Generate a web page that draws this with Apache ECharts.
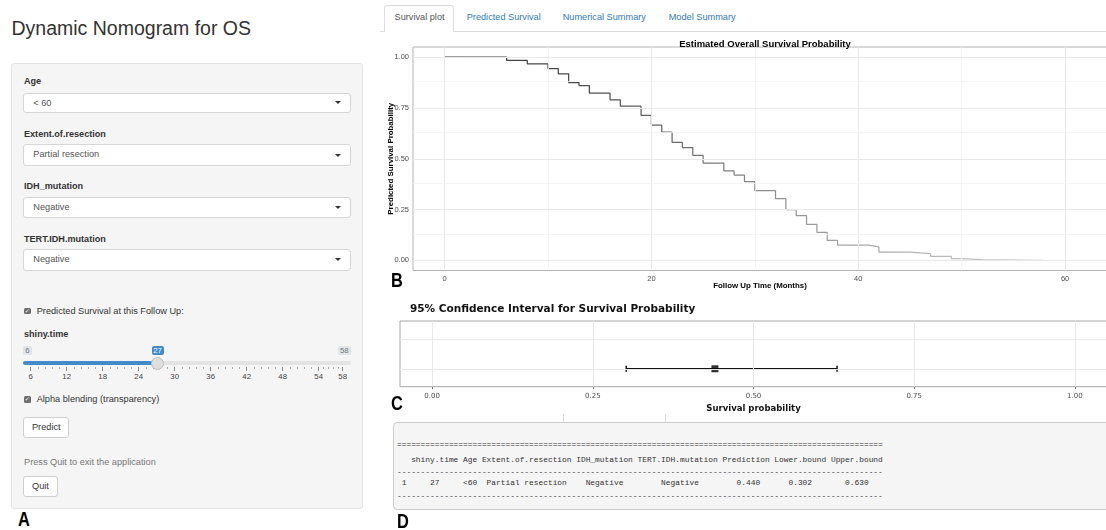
<!DOCTYPE html>
<html>
<head>
<meta charset="utf-8">
<script src="https://cdn.jsdelivr.net/npm/echarts@6/dist/echarts.min.js"></script>
<style>
html, body { margin: 0; padding: 0; width: 1106px; height: 530px; overflow: hidden; background: #fff; }
body { position: relative; font-family: "Liberation Sans", Arial, sans-serif; color: #333; }
.a { position: absolute; white-space: nowrap; }
.well { position: absolute; left: 10.7px; top: 62.7px; width: 352.6px; height: 446.6px; background: #f5f5f5; border: 1px solid #e3e3e3; border-radius: 3px; box-sizing: border-box; }
.lbl { position: absolute; left: 24px; font-size: 9.1px; line-height: 12px; font-weight: bold; color: #333; }
.sel { position: absolute; left: 23.3px; width: 327.4px; background: #fff; border: 1px solid #d6d6d6; border-radius: 3px; box-sizing: border-box; font-size: 9.2px; color: #555; padding-left: 9px; }
.caret { position: absolute; right: 9px; top: 50%; margin-top: -1.5px; width: 0; height: 0; border-left: 3px solid transparent; border-right: 3px solid transparent; border-top: 3.5px solid #333; }
.chk { position: absolute; left: 24px; width: 6.7px; height: 6.7px; background: #6e6e6e; border-radius: 1.5px; color: #fff; font-size: 6px; line-height: 6.7px; text-align: center; font-family: "DejaVu Sans", sans-serif; }
.txt { position: absolute; font-size: 9.2px; line-height: 12px; color: #333; }
.btn { position: absolute; left: 23.3px; background: #fff; border: 1px solid #cfcfcf; border-radius: 3px; box-sizing: border-box; font-size: 9.2px; color: #333; text-align: center; }
.sbox { position: absolute; top: 345.5px; height: 9px; line-height: 9px; font-size: 7.8px; text-align: center; border-radius: 2px; }
.tick { position: absolute; width: 0.8px; background: #888; }
.glab { position: absolute; font-size: 7.8px; line-height: 9px; color: #444; transform: translateX(-50%); top: 372px; }
.tab { position: absolute; top: 11px; font-size: 9.2px; line-height: 12px; color: #337ab7; }
.big { position: absolute; font-size: 20px; line-height: 20px; font-weight: bold; color: #000; transform: scaleX(0.82); transform-origin: left top; }
.mono { position: absolute; left: 397px; font-family: "Liberation Mono", monospace; font-size: 7.875px; line-height: 10px; color: #333; white-space: pre; }
</style>
</head>
<body>
<!-- left: input panel -->
<div class="a" style="left:11.5px;top:18px;font-size:19.5px;line-height:20px;color:#333">Dynamic Nomogram for OS</div>
<div class="well"></div>

<div class="lbl" style="top:75px">Age</div>
<div class="sel" style="top:92.7px;height:20.6px;line-height:18.6px">&lt; 60<i class="caret"></i></div>
<div class="lbl" style="top:128px">Extent.of.resection</div>
<div class="sel" style="top:144.3px;height:21.7px;line-height:19.7px">Partial resection<i class="caret"></i></div>
<div class="lbl" style="top:180px">IDH_mutation</div>
<div class="sel" style="top:196.7px;height:21.6px;line-height:19.6px">Negative<i class="caret"></i></div>
<div class="lbl" style="top:232.7px">TERT.IDH.mutation</div>
<div class="sel" style="top:249.3px;height:21.4px;line-height:19.4px">Negative<i class="caret"></i></div>

<div class="chk" style="top:307.7px">&#10003;</div>
<div class="txt" style="left:36.7px;top:305px">Predicted Survival at this Follow Up:</div>
<div class="lbl" style="top:328px">shiny.time</div>

<div class="sbox" style="left:23px;width:8.7px;background:#e1e4e9;color:#777">6</div>
<div class="sbox" style="left:151.5px;width:12px;background:#428bca;color:#fff">27</div>
<div class="sbox" style="left:338px;width:12.7px;background:#e1e4e9;color:#777">58</div>
<div class="a" style="left:23.3px;top:360.7px;width:327.4px;height:4.6px;background:#e4e4e4;border-radius:3px"></div>
<div class="a" style="left:23.3px;top:360.7px;width:134px;height:4.6px;background:#428bca;border-radius:3px 0 0 3px"></div>
<div id="sliderGrid"></div>
<div class="a" style="left:150.8px;top:356.5px;width:13px;height:13px;border-radius:50%;background:#dedede;border:1px solid #bdbdbd;box-sizing:border-box"></div>

<div class="chk" style="top:396px">&#10003;</div>
<div class="txt" style="left:36.7px;top:393.3px">Alpha blending (transparency)</div>
<div class="btn" style="top:416.7px;width:46px;height:21.6px;line-height:19.6px">Predict</div>
<div class="txt" style="left:24px;top:455.7px;color:#777">Press Quit to exit the application</div>
<div class="btn" style="top:475.7px;width:34.4px;height:21px;line-height:19px">Quit</div>
<div class="big" style="left:18px;top:509px">A</div>

<!-- right: tabs -->
<div class="a" style="left:380px;top:31px;width:726px;height:1px;background:#ddd"></div>
<div class="a" style="left:384px;top:5px;width:70px;height:27px;background:#fff;border:1px solid #ddd;border-bottom:none;border-radius:3px 3px 0 0;box-sizing:border-box"></div>
<div class="tab" style="left:394.5px;color:#555">Survival plot</div>
<div class="tab" style="left:466.7px">Predicted Survival</div>
<div class="tab" style="left:562.7px">Numerical Summary</div>
<div class="tab" style="left:668.7px">Model Summary</div>

<div id="surv" class="a" style="left:380px;top:33px;width:726px;height:262px"></div>
<div class="big" style="left:391px;top:269.5px">B</div>

<div id="ci" class="a" style="left:380px;top:290px;width:726px;height:130px"></div>
<div class="big" style="left:391px;top:393px">C</div>

<!-- numerical summary box -->
<div class="a" style="left:563px;top:414px;width:1px;height:9px;background:#ddd"></div>
<div class="a" style="left:665px;top:414px;width:1px;height:9px;background:#ddd"></div>
<div class="a" style="left:393.3px;top:422px;width:730px;height:87.5px;background:#f5f5f5;border:1px solid #cccccc;border-radius:4px;box-sizing:border-box"></div>
<div id="tbl"></div>
<div class="big" style="left:396.5px;top:510.5px">D</div>

<script>
// Kaplan-Meier style predicted survival (months, probability)
var timeMonths = [0, 6, 8, 10, 11, 12, 13, 14, 16, 17, 19, 20, 21, 22, 23, 24, 25, 27, 28, 29, 30, 32, 33, 34, 35, 36, 37, 38, 41, 42, 45, 47, 49, 50, 52, 58];
var survProb = [1.000, 0.984, 0.967, 0.944, 0.918, 0.875, 0.860, 0.823, 0.790, 0.759, 0.713, 0.665, 0.631, 0.580, 0.555, 0.517, 0.479, 0.440, 0.420, 0.387, 0.343, 0.304, 0.249, 0.220, 0.177, 0.138, 0.098, 0.075, 0.066, 0.041, 0.033, 0.020, 0.008, 0.003, 0.000, 0.000];
var survXTicks = [0, 20, 40, 60];
var survXMinor = [10, 30, 50];
var survYTicks = [0, 0.25, 0.5, 0.75, 1];
var survYMinor = [0.125, 0.375, 0.625, 0.875];

// 95% CI at the chosen follow up
var ciEstimate = [0.440];
var ciLower = [0.302];
var ciUpper = [0.630];
var ciXTicks = [0, 0.25, 0.5, 0.75, 1];
var ciYTicks = [1, 2];

// slider + table
var sliderTicks = [6, 12, 18, 24, 30, 36, 42, 48, 54, 58];
var tableColumns = ['shiny.time', 'Age', 'Extent.of.resection', 'IDH_mutation', 'TERT.IDH.mutation', 'Prediction', 'Lower.bound', 'Upper.bound'];
var tableRow = ['27', '<60', 'Partial resection', 'Negative', 'Negative', '0.440', '0.302', '0.630'];

var axisFont = '"Liberation Sans", Arial, sans-serif';
var ciFont = '"DejaVu Sans", Verdana, sans-serif';

function gridLine(axis, v, major) {
  var item = { lineStyle: { color: major ? '#e8e8e8' : '#f3f3f3', width: major ? 1 : 0.8, type: 'solid' } };
  item[axis] = v;
  return item;
}

var survGrid = [];
survXTicks.forEach(function (v) { survGrid.push(gridLine('xAxis', v, true)); });
survXMinor.forEach(function (v) { survGrid.push(gridLine('xAxis', v, false)); });
survYTicks.forEach(function (v) { survGrid.push(gridLine('yAxis', v, true)); });
survYMinor.forEach(function (v) { survGrid.push(gridLine('yAxis', v, false)); });

var survChart = echarts.init(document.getElementById('surv'));
survChart.setOption({
  animation: false,
  title: {
    text: 'Estimated Overall Survival Probability',
    left: 380, top: 1, textAlign: 'center',
    textStyle: { fontFamily: axisFont, fontWeight: 'bold', fontSize: 9.5, color: '#000' }
  },
  grid: {
    left: 33, top: 14, width: 694, height: 223.5, containLabel: false, outerBoundsMode: 'none',
    show: true, borderColor: '#b3b3b3', borderWidth: 1
  },
  xAxis: {
    type: 'value', min: -3.05, max: 64.05,
    name: 'Follow Up Time (Months)', nameLocation: 'middle', nameGap: 11, nameMoveOverlap: false,
    nameTextStyle: { fontFamily: axisFont, fontWeight: 'bold', fontSize: 7.9, color: '#000' },
    axisLine: { show: false },
    axisTick: { show: true, customValues: survXTicks, length: 2.5, lineStyle: { color: '#333', width: 0.8 } },
    axisLabel: { customValues: survXTicks, margin: 4, fontSize: 7.5, color: '#4d4d4d', fontFamily: axisFont },
    splitLine: { show: false }
  },
  yAxis: {
    type: 'value', min: -0.05, max: 1.05,
    name: 'Predicted Survival Probability', nameLocation: 'middle', nameGap: 18, nameRotate: 90, nameMoveOverlap: false,
    nameTextStyle: { fontFamily: axisFont, fontWeight: 'bold', fontSize: 7.9, color: '#000' },
    axisLine: { show: false },
    axisTick: { show: true, customValues: survYTicks, length: 2.5, lineStyle: { color: '#333', width: 0.8 } },
    axisLabel: {
      customValues: survYTicks, margin: 4, fontSize: 7.5, color: '#4d4d4d', fontFamily: axisFont,
      formatter: function (v) { return v.toFixed(2); }
    },
    splitLine: { show: false }
  },
  series: [
    {
      type: 'line', data: [], z: 1, silent: true,
      markLine: { silent: true, symbol: ['none', 'none'], label: { show: false }, animation: false, data: survGrid }
    },
    {
      type: 'line', step: 'end', z: 3, showSymbol: false, silent: true,
      data: timeMonths.map(function (t, i) { return [t, survProb[i]]; }),
      lineStyle: {
        width: 1.25,
        color: new echarts.graphic.LinearGradient(0, 0, 1, 0, [
          { offset: 0, color: '#3a3a3a' },
          { offset: 0.25, color: '#4d4d4d' },
          { offset: 0.4, color: '#6e6e6e' },
          { offset: 0.55, color: '#909090' },
          { offset: 0.7, color: '#a8a8a8' },
          { offset: 1, color: '#d2d2d2' }
        ])
      }
    }
  ]
});

var ciGrid = [];
ciXTicks.forEach(function (v) { ciGrid.push(gridLine('xAxis', v, true)); });
ciYTicks.forEach(function (v) { ciGrid.push(gridLine('yAxis', v, true)); });

var ciChart = echarts.init(document.getElementById('ci'));
ciChart.setOption({
  animation: false,
  title: {
    text: '95% Confidence Interval for Survival Probability',
    left: 25, top: 8.5,
    textStyle: { fontFamily: ciFont, fontWeight: 'bold', fontSize: 10.5, color: '#111' }
  },
  grid: {
    left: 20, top: 31, width: 707, height: 65.7, containLabel: false, outerBoundsMode: 'none',
    show: true, borderColor: '#a6a6a6', borderWidth: 1
  },
  xAxis: {
    type: 'value', min: -0.05, max: 1.05,
    name: 'Survival probability', nameLocation: 'middle', nameGap: 18, nameMoveOverlap: false,
    nameTextStyle: { fontFamily: ciFont, fontWeight: 'bold', fontSize: 8.5, color: '#111' },
    axisLine: { show: false },
    axisTick: { show: true, customValues: ciXTicks, length: 2.5, lineStyle: { color: '#555', width: 0.8 } },
    axisLabel: {
      customValues: ciXTicks, margin: 5.5, fontSize: 7, color: '#4d4d4d', fontFamily: ciFont,
      formatter: function (v) { return v.toFixed(2); }
    },
    splitLine: { show: false }
  },
  yAxis: {
    type: 'value', min: 0.4, max: 2.6,
    axisLine: { show: false },
    axisTick: { show: true, customValues: ciYTicks, length: 2.5, lineStyle: { color: '#555', width: 0.8 } },
    axisLabel: { show: false, customValues: ciYTicks },
    splitLine: { show: false }
  },
  series: [
    {
      type: 'line', data: [], z: 1, silent: true,
      markLine: { silent: true, symbol: ['none', 'none'], label: { show: false }, animation: false, data: ciGrid }
    },
    {
      type: 'custom', z: 3, silent: true,
      data: ciLower.map(function (lo, i) { return [lo, ciUpper[i], 1]; }),
      encode: { x: [0, 1], y: 2 },
      renderItem: function (params, api) {
        var lo = api.coord([api.value(0), api.value(2)]);
        var hi = api.coord([api.value(1), api.value(2)]);
        var st = { stroke: '#111', lineWidth: 1.5 };
        return {
          type: 'group',
          children: [
            { type: 'line', shape: { x1: lo[0], y1: lo[1], x2: hi[0], y2: hi[1] }, style: st },
            { type: 'line', shape: { x1: lo[0], y1: lo[1] - 3, x2: lo[0], y2: lo[1] + 3 }, style: st },
            { type: 'line', shape: { x1: hi[0], y1: hi[1] - 3, x2: hi[0], y2: hi[1] + 3 }, style: st }
          ]
        };
      }
    },
    {
      type: 'scatter', z: 4, silent: true, symbol: 'rect', symbolSize: 7,
      itemStyle: { color: '#000' },
      data: ciEstimate.map(function (v) { return [v, 1]; })
    }
  ]
});

// slider grid under the track
(function () {
  var g = document.getElementById('sliderGrid');
  var html = '';
  function px(v) { return 30.7 + (v - 6) * 6.0; }
  sliderTicks.forEach(function (v, i) {
    html += '<div class="tick" style="left:' + (px(v) - 0.4) + 'px;top:366.5px;height:4.3px"></div>';
    html += '<div class="glab" style="left:' + px(v) + 'px">' + v + '</div>';
    if (i < sliderTicks.length - 1) {
      var step = (sliderTicks[i + 1] - v) / 5;
      for (var k = 1; k < 5; k++) {
        html += '<div class="tick" style="left:' + (px(v + k * step) - 0.4) + 'px;top:366.5px;height:2px;background:#aaa"></div>';
      }
    }
  });
  g.innerHTML = html;
})();

// stargazer-like text table
(function () {
  function center(s, w) {
    var pad = w - s.length, l = Math.ceil(pad / 2);
    return new Array(l + 1).join(' ') + s + new Array(pad - l + 1).join(' ');
  }
  var widths = tableColumns.map(function (c, i) { return Math.max(c.length, tableRow[i].length); });
  var head = '   ' + tableColumns.map(function (c, i) { return center(c, widths[i]); }).join(' ');
  var row = ' 1 ' + tableRow.map(function (c, i) { return center(c, widths[i]); }).join(' ');
  var n = head.length;
  var eq = new Array(n + 1).join('=');
  var dash = new Array(n + 1).join('-');
  var lines = [[eq, 445], [head, 460], [dash, 471.7], [row, 483], [dash, 496]];
  var html = '';
  lines.forEach(function (l) {
    var t = l[0].replace(/&/g, '&amp;').replace(/</g, '&lt;');
    html += '<div class="mono" style="top:' + (l[1] - 5) + 'px">' + t + '</div>';
  });
  document.getElementById('tbl').innerHTML = html;
})();
</script>
</body>
</html>
